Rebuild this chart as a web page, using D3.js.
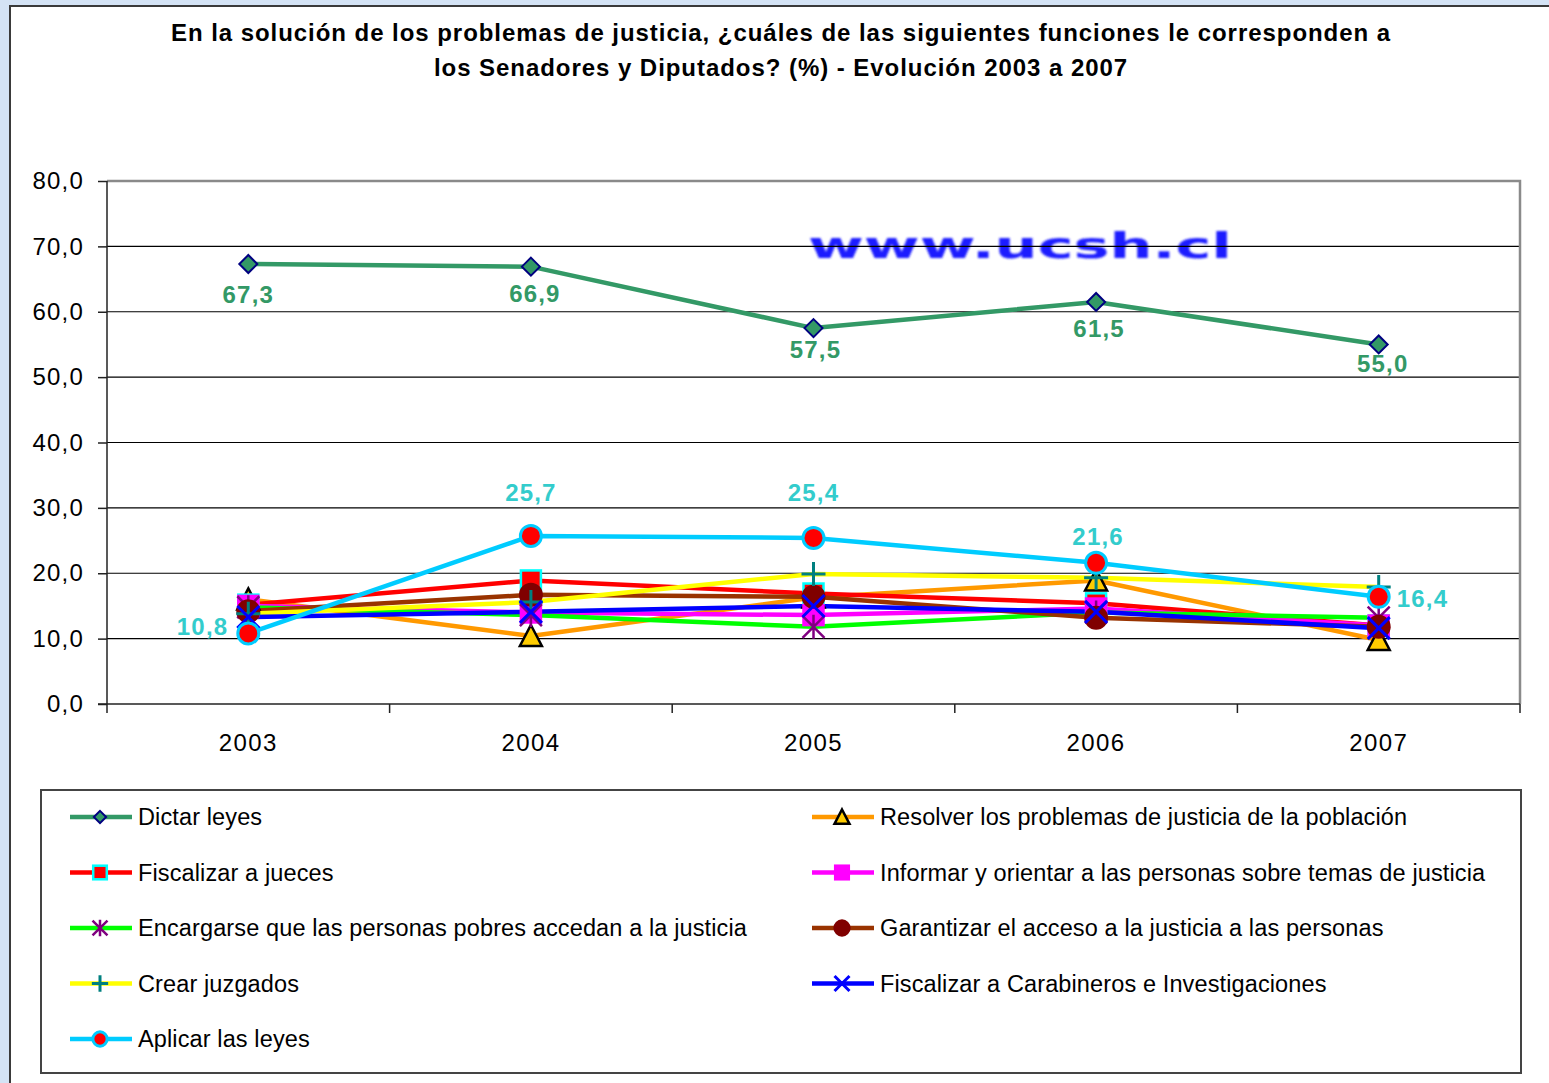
<!DOCTYPE html>
<html><head><meta charset="utf-8">
<script src="https://cdn.jsdelivr.net/npm/d3@7"></script>
<style>html,body{margin:0;padding:0;background:#d4e3f5;}svg{display:block;font-family:"Liberation Sans",Arial,sans-serif;}</style>
</head><body><svg id="chart" width="1549" height="1083"></svg>
<script>
const years = ["2003","2004","2005","2006","2007"];
const yTicks = [0,10,20,30,40,50,60,70,80];
const titleLines = ["En la solución de los problemas de justicia, ¿cuáles de las siguientes funciones le corresponden a","los Senadores y Diputados? (%) - Evolución 2003 a 2007"];
const seriesNames = ["Dictar leyes","Resolver los problemas de justicia de la población","Fiscalizar a jueces","Informar y orientar a las personas sobre temas de justicia","Encargarse que las personas pobres accedan a la justicia","Garantizar el acceso a la justicia a las personas","Crear juzgados","Fiscalizar a Carabineros e Investigaciones","Aplicar las leyes"];
const dictar     = [67.3,66.9,57.5,61.5,55.0];
const resolver   = [16.0,10.4,16.3,18.9,9.8];
const fiscJueces = [15.2,18.9,16.9,15.4,12.0];
const informar   = [15.0,14.0,13.6,14.6,12.0];
const encargarse = [14.8,13.6,11.8,14.0,13.2];
const garantizar = [14.2,16.7,16.4,13.2,11.8];
const crear      = [13.8,15.6,19.9,19.3,17.9];
const fiscCarab  = [13.3,14.1,15.0,14.1,11.6];
const aplicar    = [10.8,25.7,25.4,21.6,16.4];
const watermark = "www.ucsh.cl";

const seriesValues = [dictar,resolver,fiscJueces,informar,encargarse,garantizar,crear,fiscCarab,aplicar];
const styles = [
 {line:"#339966", m:"diamond", fill:"#339966", stroke:"#000080"},
 {line:"#FF9900", m:"triangle", fill:"#FFCC00", stroke:"#000000"},
 {line:"#FF0000", m:"square", fill:"#FF0000", stroke:"#00FFFF"},
 {line:"#FF00FF", m:"square", fill:"#FF00FF", stroke:"#FF00FF"},
 {line:"#00FF00", m:"asterisk", fill:"none", stroke:"#800080"},
 {line:"#993300", m:"circle", fill:"#800000", stroke:"#800000"},
 {line:"#FFFF00", m:"plus", fill:"none", stroke:"#008080"},
 {line:"#0000FF", m:"x", fill:"none", stroke:"#0000FF"},
 {line:"#00CCFF", m:"circle", fill:"#FF0000", stroke:"#00CCFF"}
];
const series = seriesNames.map((n,i)=>({name:n, values:seriesValues[i], style:styles[i]}));

const svg = d3.select("#chart");
const fmt = v => v.toFixed(1).replace(".", ",");

// chart area
svg.append("rect").attr("x",10).attr("y",6).attr("width",1560).attr("height",1100)
  .attr("fill","#fff").attr("stroke","#3a3a3a").attr("stroke-width",2);

// title
svg.append("g").selectAll("text").data(titleLines).join("text")
  .attr("x",781).attr("y",(d,i)=>41+i*35).attr("text-anchor","middle")
  .attr("font-size",24).attr("letter-spacing","0.95px").attr("font-weight","bold").attr("fill","#000").text(d=>d);

const pLeft=107, pRight=1520, pTop=181, pBottom=704;
const x = d3.scaleBand().domain(years).range([pLeft,pRight]).padding(0);
const cx = d => x(d)+x.bandwidth()/2;
const y = d3.scaleLinear().domain([0,80]).range([pBottom,pTop]);

// watermark
const defs = svg.append("defs");
defs.append("filter").attr("id","blur").append("feGaussianBlur").attr("stdDeviation",0.9);
svg.append("text").attr("x",808).attr("y",258).attr("font-family","DejaVu Sans")
  .attr("font-weight","bold").attr("font-size",35).attr("fill","#1f1fff")
  .attr("textLength",424).attr("lengthAdjust","spacingAndGlyphs")
  .attr("filter","url(#blur)").text(watermark);

// gridlines
svg.append("g").selectAll("line").data(yTicks.filter(t=>t>0 && t<80)).join("line")
  .attr("x1",pLeft).attr("x2",pRight).attr("y1",d=>y(d)).attr("y2",d=>y(d))
  .attr("stroke","#000").attr("stroke-width",1.2);
// plot border top/right
svg.append("path").attr("d",`M${pLeft},${y(80)}H${pRight}V${pBottom}`).attr("fill","none")
  .attr("stroke","#8a8a8a").attr("stroke-width",2.5);

// y axis
const yAxis = svg.append("g").attr("transform",`translate(${pLeft},0)`)
  .call(d3.axisLeft(y).tickValues(yTicks).tickFormat(fmt).tickSize(9).tickPadding(14));
yAxis.select(".domain").attr("d",`M0,${y(80)}V${pBottom+9}`).attr("stroke","#222").attr("stroke-width",1.5);
yAxis.selectAll(".tick line").attr("stroke","#222").attr("stroke-width",1.5);
yAxis.selectAll("text").attr("font-size",24).attr("letter-spacing","1.2px").attr("fill","#000")
  .attr("font-family","Liberation Sans, Arial, sans-serif");

// x axis
const xAxis = svg.append("g").attr("transform",`translate(0,${pBottom})`)
  .call(d3.axisBottom(x).tickSize(0).tickPadding(30));
xAxis.select(".domain").attr("d",`M${pLeft-9},0H${pRight}`).attr("stroke","#222").attr("stroke-width",1.5);
xAxis.selectAll("text").attr("font-size",24).attr("letter-spacing","1.4px").attr("fill","#000")
  .attr("font-family","Liberation Sans, Arial, sans-serif");
const bounds = years.map(d=>x(d)).concat([x(years[years.length-1])+x.bandwidth()]);
xAxis.append("g").selectAll("line").data(bounds.slice(1)).join("line")
  .attr("x1",d=>d).attr("x2",d=>d).attr("y1",0).attr("y2",9).attr("stroke","#222").attr("stroke-width",1.5);

// marker drawing
function drawMarker(g, type, fill, stroke, k){
  const s = k;
  if(type==="diamond"){
    g.append("path").attr("d",`M0,${-9*s}L${9*s},0L0,${9*s}L${-9*s},0Z`).attr("fill",fill).attr("stroke",stroke).attr("stroke-width",2);
  } else if(type==="triangle"){
    g.append("path").attr("d",`M0,${-11*s}L${11*s},${10*s}L${-11*s},${10*s}Z`).attr("fill",fill).attr("stroke",stroke).attr("stroke-width",2.5).attr("stroke-linejoin","miter");
  } else if(type==="square"){
    g.append("rect").attr("x",-10*s).attr("y",-10*s).attr("width",20*s).attr("height",20*s).attr("fill",fill).attr("stroke",stroke).attr("stroke-width",2.5);
  } else if(type==="circle"){
    g.append("circle").attr("r",10.5*s).attr("fill",fill).attr("stroke",stroke).attr("stroke-width",3);
  } else if(type==="plus"){
    g.append("path").attr("d",`M0,${-12*s}V${12*s}M${-12*s},0H${12*s}`).attr("stroke",stroke).attr("stroke-width",3).attr("fill","none");
  } else if(type==="x"){
    g.append("path").attr("d",`M${-11*s},${-11*s}L${11*s},${11*s}M${11*s},${-11*s}L${-11*s},${11*s}`).attr("stroke",stroke).attr("stroke-width",3).attr("fill","none");
  } else if(type==="asterisk"){
    g.append("path").attr("d",`M0,${-12*s}V${12*s}M${-11*s},${-11*s}L${11*s},${11*s}M${11*s},${-11*s}L${-11*s},${11*s}`).attr("stroke",stroke).attr("stroke-width",2.5).attr("fill","none");
  }
}

// lines
const line = d3.line().x((d,i)=>cx(years[i])).y(d=>y(d));
svg.append("g").selectAll("path").data(series).join("path")
  .attr("d",d=>line(d.values)).attr("fill","none").attr("stroke",d=>d.style.line)
  .attr("stroke-width",4.5).attr("stroke-linejoin","round");

// markers
series.forEach(s=>{
  s.values.forEach((v,i)=>{
    const g = svg.append("g").attr("transform",`translate(${cx(years[i])},${y(v)})`);
    drawMarker(g, s.style.m, s.style.fill, s.style.stroke, 1);
  });
});

// data labels: Dictar leyes (below, as placed in the original)
const dPlace = [{dx:0,dy:39},{dx:4,dy:35},{dx:2,dy:30},{dx:3,dy:35},{dx:4,dy:28}];
svg.append("g").selectAll("text").data(dictar).join("text")
  .attr("x",(d,i)=>cx(years[i])+dPlace[i].dx).attr("y",(d,i)=>y(d)+dPlace[i].dy)
  .attr("text-anchor","middle").attr("font-size",24).attr("font-weight","bold")
  .attr("letter-spacing","1.2px").attr("fill","#339966").text(fmt);
// Aplicar las leyes labels
const apPlace = [{a:"end",dx:-20,dy:2},{a:"middle",dx:0,dy:-35},{a:"middle",dx:0,dy:-37},{a:"middle",dx:2,dy:-18},{a:"start",dx:18,dy:10}];
svg.append("g").selectAll("text").data(aplicar).join("text")
  .attr("x",(d,i)=>cx(years[i])+apPlace[i].dx).attr("y",(d,i)=>y(d)+apPlace[i].dy)
  .attr("text-anchor",(d,i)=>apPlace[i].a).attr("font-size",24).attr("font-weight","bold")
  .attr("letter-spacing","1.2px").attr("fill","#33CCCC").text(fmt);

// legend
svg.append("rect").attr("x",41).attr("y",790).attr("width",1480).attr("height",283)
  .attr("fill","#fff").attr("stroke","#444").attr("stroke-width",2);
const lg = svg.append("g").selectAll("g").data(series).join("g")
  .attr("transform",(d,i)=>`translate(${i%2===0?70:812},${817+Math.floor(i/2)*55.5})`);
lg.append("line").attr("x1",0).attr("x2",62).attr("stroke",d=>d.style.line).attr("stroke-width",4.5);
lg.each(function(d){ const g=d3.select(this).append("g").attr("transform","translate(30,0)"); drawMarker(g,d.style.m,d.style.fill,d.style.stroke,0.68); });
lg.append("text").attr("x",68).attr("y",8).attr("font-size",23.5).attr("letter-spacing","0.12px").attr("fill","#000").text(d=>d.name);
</script></body></html>
